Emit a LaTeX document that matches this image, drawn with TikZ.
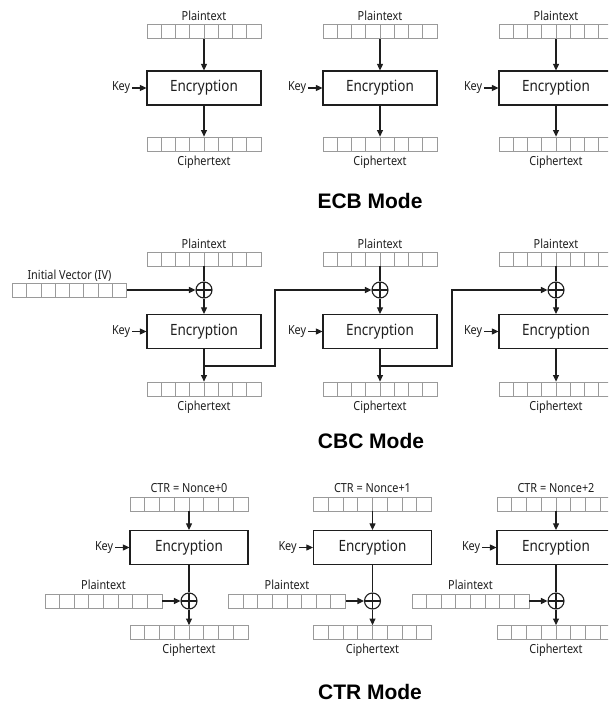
\documentclass[tikz,border=0pt]{standalone}
\usepackage{fontspec}
\usetikzlibrary{calc,arrows.meta}
\newfontfamily\lblfam[FakeStretch=0.87]{Noto Sans}
\newfontfamily\titlefam{Liberation Sans}
\definecolor{cellgray}{HTML}{9A9A9A}
\definecolor{ink}{HTML}{1E1E1E}
\tikzset{
  bar/.style={draw=cellgray, line width=0.8pt, minimum width=114pt, minimum height=14pt, inner sep=0pt,
    path picture={\foreach \k in {1,...,7}{\draw[cellgray, line width=0.8pt]
      ($(path picture bounding box.south west)!\k/8!(path picture bounding box.south east)$) --
      ($(path picture bounding box.north west)!\k/8!(path picture bounding box.north east)$);}}},
  widebar/.style={bar, minimum width=118pt},
  encbox/.style={draw=ink, line width=1.2pt, minimum width=114pt, minimum height=34pt, inner sep=0pt,
    text=ink, font=\lblfam\fontsize{15.5}{16}\selectfont},
  lbl/.style={inner sep=0pt, text=ink, font=\lblfam\fontsize{12.5}{13}\selectfont},
  keylbl/.style={lbl, anchor=east, inner xsep=2pt},
  arr/.style={draw=ink, line width=1.1pt, -{Triangle[length=6.5pt,width=6pt]}},
  ln/.style={draw=ink, line width=1.1pt},
  xor/.style={circle, draw=ink, line width=1.1pt, minimum size=16pt, inner sep=0pt,
    path picture={\draw[ink, line width=1.1pt]
      (path picture bounding box.north) -- (path picture bounding box.south)
      (path picture bounding box.west) -- (path picture bounding box.east);}},
  modetitle/.style={inner sep=0pt, anchor=base, text=black, font=\titlefam\bfseries\fontsize{21}{22}\selectfont}
}
\begin{document}
\begin{tikzpicture}[x=1pt,y=-1pt]
\useasboundingbox (0,0) rectangle (608,703);
\clip (0,0) rectangle (608,703);

% ---------------- ECB ----------------
\foreach \i/\x in {1/204,2/380,3/556}{
  \node[bar] (ap\i) at (\x,31.5) {};
  \node[lbl, anchor=base] (apl\i) at ([yshift=4pt]ap\i.north) {Plaintext};
  \node[encbox] (ae\i) at (\x,88) {Encryption};
  \node[keylbl] (ak\i) at ([xshift=-14pt]ae\i.west) {Key};
  \node[bar] (ac\i) at (\x,144) {};
  \node[lbl, anchor=base] (acl\i) at ([yshift=-14pt]ac\i.south) {Ciphertext};
  \draw[arr] (ap\i) -- (ae\i);
  \draw[arr] (ae\i) -- (ac\i);
  \draw[arr] (ak\i) -- (ae\i);
}
\node[modetitle] (ecbt) at (370,208) {ECB Mode};

% ---------------- CBC ----------------
\node[bar] (iv) at (69.5,290) {};
\node[lbl, anchor=base] (ivl) at ([yshift=3pt]iv.north) {Initial Vector (IV)};
\foreach \i/\x in {1/204,2/380,3/556}{
  \node[bar] (bp\i) at (\x,259) {};
  \node[lbl, anchor=base] (bpl\i) at ([yshift=3pt]bp\i.north) {Plaintext};
  \node[xor] (bx\i) at (\x,290) {};
  \node[encbox] (be\i) at (\x,331.5) {Encryption};
  \node[keylbl] (bk\i) at ([xshift=-14pt]be\i.west) {Key};
  \node[bar] (bc\i) at (\x,389) {};
  \node[lbl, anchor=base] (bcl\i) at ([yshift=-14pt]bc\i.south) {Ciphertext};
  \coordinate (bj\i) at (\x,366);
  \draw[ln] (bp\i) -- (bx\i);
  \draw[arr] (bx\i) -- (be\i);
  \draw[arr] (be\i) -- (bc\i);
  \draw[arr] (bk\i) -- (be\i);
}
\draw[arr] (iv) -- (bx1);
\coordinate (bt1) at (275,366);
\coordinate (bt2) at (452,366);
\draw[arr] (bj1) -- (bt1) |- (bx2);
\draw[arr] (bj2) -- (bt2) |- (bx3);
\node[modetitle] (cbct) at (371,448) {CBC Mode};

% ---------------- CTR ----------------
\foreach \i/\x/\n in {1/189/0,2/372.5/1,3/556/2}{
  \node[widebar] (cn\i) at (\x,504) {};
  \node[lbl, anchor=base] (cnl\i) at ([yshift=4pt]cn\i.north) {CTR = Nonce+\n};
  \node[encbox, minimum width=118pt] (ce\i) at (\x,547.5) {Encryption};
  \node[keylbl] (ck\i) at ([xshift=-14pt]ce\i.west) {Key};
  \node[xor] (cx\i) at (\x,601) {};
  \node[bar, minimum width=117pt] (cq\i) at ({\x-85.5},601) {};
  \node[lbl, anchor=base] (cql\i) at ([yshift=4pt]cq\i.north) {Plaintext};
  \node[widebar] (cc\i) at (\x,632.5) {};
  \node[lbl, anchor=base] (ccl\i) at ([yshift=-14pt]cc\i.south) {Ciphertext};
  \draw[arr] (cn\i) -- (ce\i);
  \draw[arr] (ck\i) -- (ce\i);
  \draw[ln] (ce\i) -- (cx\i);
  \draw[arr] (cx\i) -- (cc\i);
  \draw[arr] (cq\i) -- (cx\i);
}
\node[modetitle] (ctrt) at (370,699) {CTR Mode};
\end{tikzpicture}
\end{document}
